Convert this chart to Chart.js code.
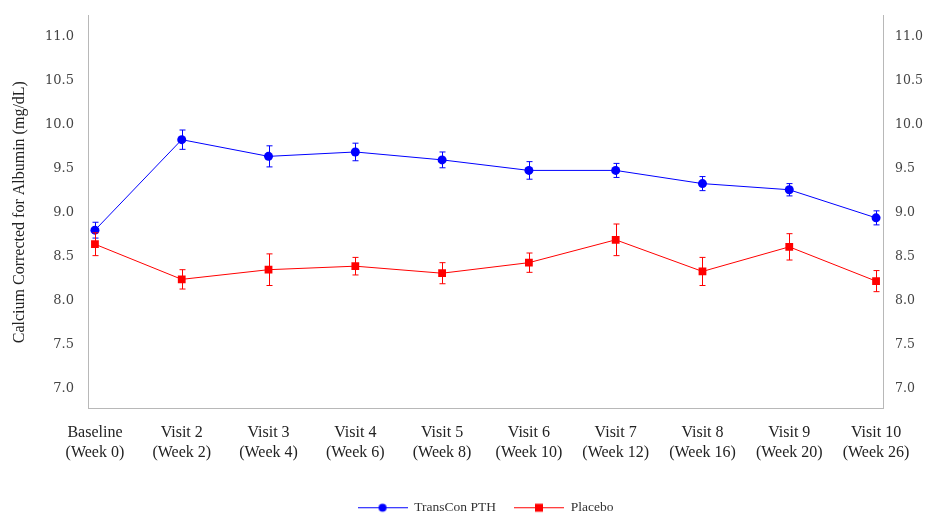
<!DOCTYPE html>
<html>
<head>
<meta charset="utf-8">
<script src="https://cdn.jsdelivr.net/npm/chart.js@4"></script>
<style>
  html, body { margin: 0; padding: 0; background: #fff; }
  #wrap { width: 928px; height: 514px; }
</style>
</head>
<body>
<div id="wrap"><canvas id="grafico"></canvas></div>
<script>
var visitas = [
    ['Baseline', '(Week 0)'], ['Visit 2', '(Week 2)'], ['Visit 3', '(Week 4)'],
    ['Visit 4', '(Week 6)'], ['Visit 5', '(Week 8)'], ['Visit 6', '(Week 10)'],
    ['Visit 7', '(Week 12)'], ['Visit 8', '(Week 16)'], ['Visit 9', '(Week 20)'],
    ['Visit 10', '(Week 26)']
];
var transcon = [8.80, 9.83, 9.64, 9.69, 9.60, 9.48, 9.48, 9.33, 9.26, 8.94];
var transconErr = [0.09, 0.11, 0.12, 0.10, 0.09, 0.10, 0.08, 0.08, 0.07, 0.08];
var placebo = [8.64, 8.24, 8.35, 8.39, 8.31, 8.43, 8.69, 8.33, 8.61, 8.22];
var placeboErr = [0.13, 0.11, 0.18, 0.10, 0.12, 0.11, 0.18, 0.16, 0.15, 0.12];
var yTicks = [7.0, 7.5, 8.0, 8.5, 9.0, 9.5, 10.0, 10.5, 11.0];

var AZUL = '#0000ff';
var ROJO = '#ff0000';
var GRIS = '#b8b8b8';

function puntos(valores) {
    return valores.map(function (v, i) { return { x: i, y: v }; });
}

// small legend glyph: line with the marker in the middle
function iconoLeyenda(color, forma) {
    var c = document.createElement('canvas');
    c.width = 50; c.height = 12;
    var g = c.getContext('2d');
    g.strokeStyle = color;
    g.lineWidth = 1;
    g.beginPath(); g.moveTo(0, 6.5); g.lineTo(50, 6.5); g.stroke();
    g.fillStyle = color;
    if (forma == 'circle') {
        g.beginPath(); g.arc(25, 6.5, 4, 0, Math.PI * 2); g.fill();
    } else {
        g.fillRect(21, 2.5, 8, 8);
    }
    return c;
}

var barrasError = {
    id: 'barrasError',
    afterDatasetsDraw: function (chart) {
        var ctx = chart.ctx;
        var ys = chart.scales.y;
        chart.data.datasets.forEach(function (ds, k) {
            var meta = chart.getDatasetMeta(k);
            ctx.save();
            ctx.strokeStyle = ds.borderColor;
            ctx.lineWidth = 1;
            meta.data.forEach(function (pt, i) {
                var v = ds.data[i].y;
                var e = ds.errores[i];
                var x = Math.round(pt.x) + 0.5;
                var y1 = ys.getPixelForValue(v + e);
                var y2 = ys.getPixelForValue(v - e);
                ctx.beginPath();
                ctx.moveTo(x, y1); ctx.lineTo(x, y2);
                ctx.moveTo(x - 3, y1); ctx.lineTo(x + 3, y1);
                ctx.moveTo(x - 3, y2); ctx.lineTo(x + 3, y2);
                ctx.stroke();
            });
            ctx.restore();
        });
    }
};

var tickFont = { family: 'DejaVu Serif', size: 13 };

var ctx = document.getElementById('grafico').getContext('2d');
var grafico = new Chart(ctx, {
    type: 'line',
    data: {
        datasets: [{
            label: 'TransCon PTH',
            data: puntos(transcon),
            errores: transconErr,
            borderColor: AZUL,
            backgroundColor: AZUL,
            borderWidth: 1,
            pointStyle: 'circle',
            pointRadius: 4.5,
            pointHoverRadius: 4.5,
            pointBorderWidth: 0,
            legendIcon: iconoLeyenda(AZUL, 'circle')
        }, {
            label: 'Placebo',
            data: puntos(placebo),
            errores: placeboErr,
            borderColor: ROJO,
            backgroundColor: ROJO,
            borderWidth: 1,
            pointStyle: 'rect',
            pointRadius: 5.5,
            pointHoverRadius: 5.5,
            pointBorderWidth: 0,
            legendIcon: iconoLeyenda(ROJO, 'rect')
        }]
    },
    options: {
        responsive: true,
        maintainAspectRatio: false,
        animation: false,
        layout: { padding: { top: 13, left: 0, right: 0, bottom: -10 } },
        plugins: {
            tooltip: { enabled: false },
            legend: {
                position: 'bottom',
                fullSize: false,
                labels: {
                    usePointStyle: true,
                    pointStyleWidth: 50,
                    color: '#333',
                    font: { family: 'Liberation Serif', size: 13.5 },
                    padding: 18,
                    generateLabels: function (chart) {
                        return chart.data.datasets.map(function (ds, i) {
                            return {
                                text: ds.label,
                                pointStyle: ds.legendIcon,
                                fillStyle: ds.borderColor,
                                strokeStyle: ds.borderColor,
                                lineWidth: 0,
                                fontColor: '#333',
                                datasetIndex: i
                            };
                        });
                    }
                }
            }
        },
        scales: {
            x: {
                type: 'linear',
                min: -0.08,
                max: 9.08,
                afterBuildTicks: function (axis) {
                    axis.ticks = visitas.map(function (v, i) { return { value: i }; });
                },
                afterFit: function (axis) { axis.height = 74; },
                grid: { display: false, drawTicks: true, tickLength: 6, tickColor: GRIS },
                border: { color: GRIS },
                ticks: {
                    color: '#222',
                    font: { family: 'Liberation Serif', size: 16, lineHeight: 1.2 },
                    maxRotation: 0,
                    padding: 9,
                    callback: function (v) { return visitas[Math.round(v)]; }
                }
            },
            y: {
                position: 'left',
                min: 6.77,
                max: 11.24,
                afterBuildTicks: function (axis) {
                    axis.ticks = yTicks.map(function (v) { return { value: v }; });
                },
                afterFit: function (axis) { axis.width = 88; },
                grid: { display: false, drawTicks: true, tickLength: 6, tickColor: GRIS },
                border: { color: GRIS },
                title: {
                    display: true,
                    text: 'Calcium Corrected for Albumin (mg/dL)',
                    color: '#222',
                    font: { family: 'Liberation Serif', size: 16 },
                    padding: { top: 10, bottom: 6 }
                },
                ticks: {
                    color: '#444',
                    font: tickFont,
                    padding: 8,
                    callback: function (v) { return v.toFixed(1); }
                }
            },
            y2: {
                position: 'right',
                min: 6.77,
                max: 11.24,
                afterBuildTicks: function (axis) {
                    axis.ticks = yTicks.map(function (v) { return { value: v }; });
                },
                afterFit: function (axis) { axis.width = 45; },
                grid: { display: false, drawTicks: true, tickLength: 6, tickColor: GRIS },
                border: { color: GRIS },
                ticks: {
                    color: '#444',
                    font: { family: 'DejaVu Serif', size: 12.5 },
                    padding: 6,
                    callback: function (v) { return v.toFixed(1); }
                }
            }
        }
    },
    plugins: [barrasError]
});
</script>
</body>
</html>
